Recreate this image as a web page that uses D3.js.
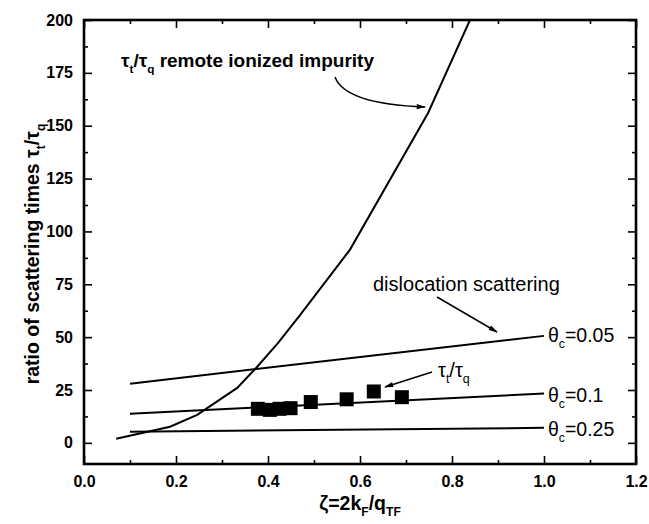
<!DOCTYPE html>
<html>
<head>
<meta charset="utf-8">
<script src="https://cdn.jsdelivr.net/npm/d3@7"></script>
<style>
  body { margin: 0; background: #fff; }
  text { font-family: "Liberation Sans", Arial, sans-serif; fill: #000; }
</style>
</head>
<body>
<svg id="chart"></svg>
<script>
// remote ionized impurity curve (tau_t/tau_q)
let impurityZeta = [0.07, 0.187, 0.246, 0.333, 0.376, 0.422, 0.47, 0.578, 0.748, 0.839, 0.86];
let impurityRatio = [1.9, 7.6, 13.2, 26, 35.9, 47.3, 60.5, 91.3, 156, 200, 210];

// dislocation scattering lines, end points at zeta = 0.1 and 1.0
let dislocZeta = [0.1, 1.0];
let theta005 = [28, 50.6];
let theta01 = [13.8, 23.3];
let theta025 = [5.3, 7.1];

// measured points
let measZeta = [0.378, 0.404, 0.425, 0.449, 0.493, 0.571, 0.630, 0.691];
let measRatio = [16.1, 15.6, 16.1, 16.4, 19.3, 20.6, 24.3, 21.6];

let xMajor = [0, 0.2, 0.4, 0.6, 0.8, 1.0, 1.2];
let xMinor = [0.1, 0.3, 0.5, 0.7, 0.9, 1.1];
let yMajor = [0, 25, 50, 75, 100, 125, 150, 175, 200];
let yMinor = [12.5, 37.5, 62.5, 87.5, 112.5, 137.5, 162.5, 187.5];

let W = 649, H = 524;
let margin = {top: 20, right: 13, bottom: 60, left: 84};
let width = W - margin.left - margin.right;
let height = H - margin.top - margin.bottom;

let svg = d3.select('#chart').attr('width', W).attr('height', H);
let g = svg.append('g').attr('transform', 'translate(' + margin.left + ',' + margin.top + ')');

let xScale = d3.scaleLinear().domain([0, 1.2]).range([0, width]);
let yScale = d3.scaleLinear().domain([-10, 200]).range([height, 0]);

g.append('defs').append('clipPath').attr('id', 'clip')
    .append('rect').attr('width', width).attr('height', height);
let defs = svg.append('defs');
defs.append('marker').attr('id', 'head')
    .attr('viewBox', '0 0 12 8').attr('refX', 11).attr('refY', 4)
    .attr('markerWidth', 10).attr('markerHeight', 6).attr('orient', 'auto')
    .attr('markerUnits', 'userSpaceOnUse')
    .append('path').attr('d', 'M0,0.5 L12,4 L0,7.5 Z').style('fill', '#000');

// axes, ticks pointing inward on all sides
function styleAxis(sel) {
    sel.select('.domain').remove();
    sel.selectAll('line').style('stroke', '#000').style('stroke-width', 1.6);
    sel.selectAll('text').style('font-size', '16px').style('font-weight', 'bold')
        .style('font-family', '"Liberation Sans", Arial, sans-serif');
}
g.append('g').attr('transform', 'translate(0,' + height + ')')
    .call(d3.axisBottom(xScale).tickValues(xMajor).tickSize(-8).tickPadding(12).tickFormat(d3.format('.1f')))
    .call(styleAxis);
g.append('g').attr('transform', 'translate(0,' + height + ')')
    .call(d3.axisBottom(xScale).tickValues(xMinor).tickSize(-4).tickFormat(''))
    .call(styleAxis);
g.append('g')
    .call(d3.axisTop(xScale).tickValues(xMajor).tickSize(-8).tickFormat(''))
    .call(styleAxis);
g.append('g')
    .call(d3.axisTop(xScale).tickValues(xMinor).tickSize(-4).tickFormat(''))
    .call(styleAxis);
g.append('g')
    .call(d3.axisLeft(yScale).tickValues(yMajor).tickSize(-8).tickPadding(11).tickFormat(d3.format('d')))
    .call(styleAxis);
g.append('g')
    .call(d3.axisLeft(yScale).tickValues(yMinor).tickSize(-4).tickFormat(''))
    .call(styleAxis);
g.append('g').attr('transform', 'translate(' + width + ',0)')
    .call(d3.axisRight(yScale).tickValues(yMajor).tickSize(-8).tickFormat(''))
    .call(styleAxis);
g.append('g').attr('transform', 'translate(' + width + ',0)')
    .call(d3.axisRight(yScale).tickValues(yMinor).tickSize(-4).tickFormat(''))
    .call(styleAxis);

// frame
g.append('rect').attr('width', width).attr('height', height)
    .style('fill', 'none').style('stroke', '#000').style('stroke-width', 2.6);

// curves
let line = d3.line().x(d => xScale(d[0])).y(d => yScale(d[1]));
let plot = g.append('g').attr('clip-path', 'url(#clip)');

plot.append('path').datum(d3.zip(impurityZeta, impurityRatio))
    .attr('d', line).style('fill', 'none').style('stroke', '#000').style('stroke-width', 2);

[theta005, theta01, theta025].forEach(vals => {
    plot.append('path').datum(d3.zip(dislocZeta, vals))
        .attr('d', line).style('fill', 'none').style('stroke', '#000').style('stroke-width', 2);
});

// measured squares
let sq = 14;
plot.selectAll('.meas').data(d3.zip(measZeta, measRatio)).enter().append('rect')
    .attr('class', 'meas')
    .attr('x', d => xScale(d[0]) - sq / 2)
    .attr('y', d => yScale(d[1]) - sq / 2)
    .attr('width', sq).attr('height', sq)
    .style('fill', '#000');

// helper for text with subscripts: parts = [[text, isSub], ...]
function richText(parent, x, y, parts, size, weight) {
    let t = parent.append('text').attr('x', x).attr('y', y)
        .style('font-size', size + 'px').style('font-weight', weight);
    let down = false;
    parts.forEach(p => {
        let ts = t.append('tspan').text(p[0]);
        if (p[1] && !down) { ts.attr('dy', size * 0.3).style('font-size', (size * 0.62) + 'px'); down = true; }
        else if (!p[1] && down) { ts.attr('dy', -size * 0.3); down = false; }
    });
    return t;
}

// annotations (svg coordinates)
richText(svg, 121, 67, [['τ', false], ['t', true], ['/τ', false], ['q', true], [' remote ionized impurity', false]], 19, 'bold');
svg.append('path').attr('d', 'M335,77 Q345,104 425,107')
    .style('fill', 'none').style('stroke', '#000').style('stroke-width', 1.5)
    .attr('marker-end', 'url(#head)');

svg.append('text').attr('x', 373).attr('y', 291).text('dislocation scattering')
    .style('font-size', '20px');
svg.append('line').attr('x1', 437).attr('y1', 297).attr('x2', 497).attr('y2', 332)
    .style('stroke', '#000').style('stroke-width', 1.5).attr('marker-end', 'url(#head)');

richText(svg, 548, 342, [['θ', false], ['c', true], ['=0.05', false]], 19.5, 'normal');
richText(svg, 548, 402, [['θ', false], ['c', true], ['=0.1', false]], 19.5, 'normal');
richText(svg, 548, 436, [['θ', false], ['c', true], ['=0.25', false]], 19.5, 'normal');

richText(svg, 438, 377, [['τ', false], ['t', true], ['/τ', false], ['q', true]], 20, 'normal');
svg.append('line').attr('x1', 432).attr('y1', 372).attr('x2', 385).attr('y2', 387)
    .style('stroke', '#000').style('stroke-width', 1.5).attr('marker-end', 'url(#head)');

// axis titles
richText(svg, 0, 0, [['ratio of scattering times τ', false], ['t', true], ['/τ', false], ['q', true]], 19.5, 'bold')
    .attr('text-anchor', 'middle')
    .attr('transform', 'translate(39,254) rotate(-90)');
richText(svg, 360, 510, [['ζ=2k', false], ['F', true], ['/q', false], ['TF', true]], 19.5, 'bold')
    .attr('text-anchor', 'middle');
</script>
</body>
</html>
